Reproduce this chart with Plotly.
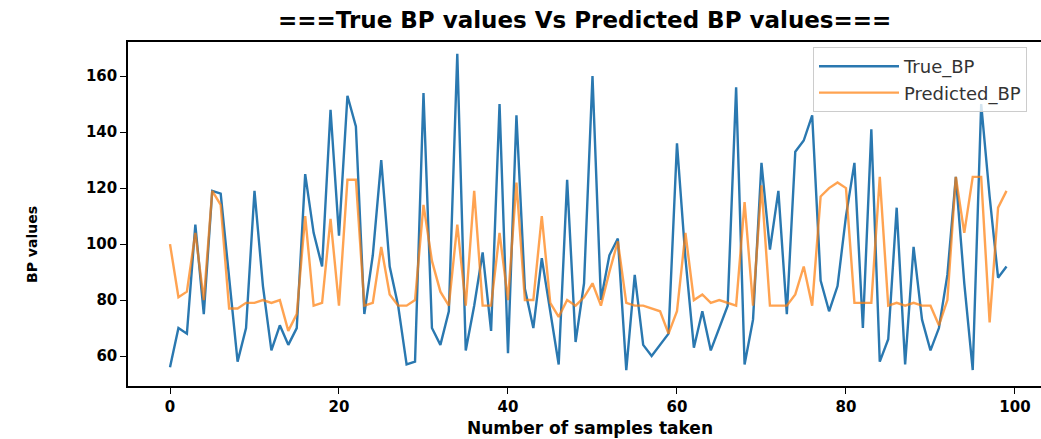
import plotly.graph_objects as go

samples = list(range(100))

true_bp = [56, 70, 68, 107, 75, 119, 118, 88, 58, 70,
           119, 85, 62, 71, 64, 70, 125, 104, 92, 148,
           103, 153, 142, 75, 96, 130, 92, 78, 57, 58,
           154, 70, 64, 76, 168, 62, 78, 97, 69, 150,
           61, 146, 84, 70, 95, 76, 57, 123, 65, 86,
           160, 80, 96, 102, 55, 89, 64, 60, 64, 68,
           136, 95, 63, 76, 62, 70, 78, 156, 57, 73,
           129, 98, 119, 75, 133, 137, 146, 87, 76, 85,
           110, 129, 70, 141, 58, 66, 113, 57, 99, 73,
           62, 70, 89, 124, 86, 55, 150, 117, 88, 92]

pred_bp = [100, 81, 83, 104, 80, 119, 114, 77, 77, 79,
           79, 80, 79, 80, 69, 75, 110, 78, 79, 109,
           78, 123, 123, 78, 79, 99, 82, 78, 78, 80,
           114, 94, 83, 78, 107, 78, 119, 78, 78, 104,
           80, 122, 80, 80, 110, 79, 74, 80, 78, 81,
           86, 78, 90, 101, 79, 78, 78, 77, 76, 68,
           76, 104, 80, 82, 79, 80, 79, 78, 115, 78,
           121, 78, 78, 78, 82, 92, 78, 117, 120, 122,
           120, 79, 79, 79, 124, 78, 79, 78, 79, 78,
           78, 71, 80, 124, 104, 124, 124, 72, 113, 119]

x_ticks = [0, 20, 40, 60, 80, 100]
y_ticks = [60, 80, 100, 120, 140, 160]

fig = go.Figure()
fig.add_trace(go.Scatter(x=samples, y=true_bp, mode="lines", name="True_BP",
                         line=dict(color="#2a78b0", width=2.4)))
fig.add_trace(go.Scatter(x=samples, y=pred_bp, mode="lines", name="Predicted_BP",
                         line=dict(color="rgba(255,127,14,0.72)", width=2.4)))

tickfont = dict(family="DejaVu Sans", size=15, color="black", weight="bold")

fig.update_layout(
    width=1041, height=439,
    margin=dict(l=128, r=0, t=42, b=53),
    paper_bgcolor="white", plot_bgcolor="white",
    showlegend=True,
    legend=dict(x=(1027 - 128) / 913, y=(386 - 47) / 344, xanchor="right", yanchor="top",
                bgcolor="rgba(255,255,255,0.8)", bordercolor="#cccccc", borderwidth=1,
                font=dict(family="DejaVu Sans", size=18, color="#333333"),
                itemwidth=80, tracegroupgap=4),
    xaxis=dict(range=[-4.97, 103.08], tickvals=x_ticks, showgrid=False, zeroline=False,
               showline=True, linecolor="black", linewidth=1.5, mirror=True,
               ticks="outside", ticklen=6, tickcolor="black", tickfont=tickfont),
    yaxis=dict(range=[49.3, 172.2], tickvals=y_ticks, showgrid=False, zeroline=False,
               showline=True, linecolor="black", linewidth=1.5,
               ticks="outside", ticklen=6, tickcolor="black", tickfont=tickfont,
               ticklabelstandoff=0),
    annotations=[
        dict(text="===True BP values Vs Predicted BP values===", xref="paper", yref="paper",
             x=0.5, y=1, yshift=22, xanchor="center", yanchor="middle",
             showarrow=False, font=dict(family="DejaVu Sans", size=23, color="black", weight="bold")),
        dict(text="Number of samples taken", xref="paper", yref="paper",
             x=(590 - 128) / 913, y=0, yshift=-42, xanchor="center", yanchor="middle",
             showarrow=False, font=dict(family="DejaVu Sans", size=17, color="black", weight="bold")),
        dict(text="BP values", xref="paper", yref="paper", textangle=-90,
             x=0, xshift=-96, y=(386 - 245) / 344, xanchor="center", yanchor="middle",
             showarrow=False, font=dict(family="DejaVu Sans", size=14, color="black", weight="bold")),
    ],
)

fig.write_html("out.html", config={"displayModeBar": False},
               post_script="document.body.style.margin='0px';")
